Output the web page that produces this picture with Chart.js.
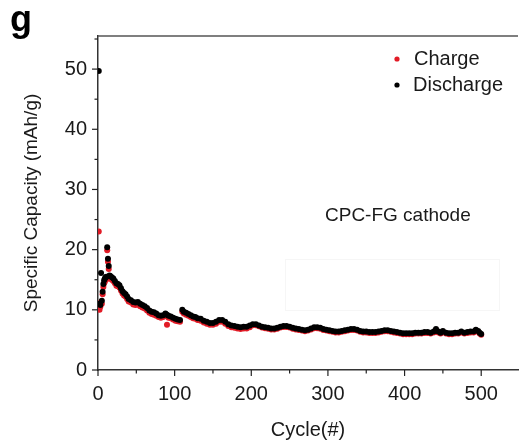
<!DOCTYPE html>
<html>
<head>
<meta charset="utf-8">
<script src="https://cdn.jsdelivr.net/npm/chart.js@4.4.0/dist/chart.umd.min.js"></script>
<style>
  html, body { margin: 0; padding: 0; background: #fff; overflow: hidden; }
  canvas { display: block; }
</style>
</head>
<body>
<canvas id="capacityChart" width="521" height="445"></canvas>
<script>
// cycle numbers (x values)
const cycles = [
  1, 2, 3, 4, 5, 6, 7, 8, 9, 10, 11, 12, 13, 14, 15, 16, 18, 20, 22, 24, 26, 28, 30,
  32, 34, 36, 38, 40, 43, 46, 49, 52, 55, 58, 61, 64, 67, 70, 73, 76, 79, 82, 85, 88, 90,
  92, 95, 98, 101, 104, 107, 110, 112, 115, 118, 121, 124, 127, 130, 134, 138, 142, 146, 150,
  154, 158, 162, 166, 170, 174, 178, 182, 186, 190, 194, 198, 202, 206, 210, 214, 218, 222,
  226, 230, 234, 238, 242, 246, 250, 254, 258, 262, 266, 270, 274, 278, 282, 286, 290, 294,
  298, 302, 306, 310, 314, 318, 322, 326, 330, 334, 338, 342, 346, 350, 354, 358, 362, 366,
  370, 374, 378, 382, 386, 390, 394, 398, 402, 406, 410, 414, 418, 422, 426, 430, 434, 438,
  441, 444, 447, 450, 454, 458, 462, 466, 470, 474, 478, 482, 486, 490, 493, 496, 498, 500
];

// discharge capacity, mAh/g
const discharge = [
  49.7, 11.0, 10.8, 16.1, 11.5, 13.0, 14.3, 14.9, 15.2, 15.4, 15.5, 20.4, 18.5, 17.3, 15.7, 15.6, 15.4, 15.2, 14.8, 14.4, 14.3, 14.1, 13.6,
  13.1, 12.8, 12.6, 12.2, 11.8, 11.6, 11.3, 11.2, 11.3, 11.0, 10.8, 10.6, 10.3, 9.9, 9.7, 9.6, 9.4, 9.1, 9.0, 9.1, 9.4, 9.2,
  9.0, 8.9, 8.7, 8.5, 8.4, 8.3, 10.0, 9.7, 9.5, 9.3, 9.1, 8.9, 8.8, 8.6, 8.5, 8.2, 8.0, 7.8, 7.8,
  8.0, 8.3, 8.3, 8.0, 7.6, 7.4, 7.3, 7.2, 7.1, 7.2, 7.2, 7.4, 7.6, 7.6, 7.4, 7.2, 7.1, 7.0,
  6.9, 6.9, 7.0, 7.2, 7.3, 7.3, 7.2, 7.0, 6.9, 6.8, 6.7, 6.6, 6.7, 6.9, 7.1, 7.1, 7.0, 6.8,
  6.7, 6.6, 6.5, 6.4, 6.4, 6.5, 6.6, 6.7, 6.8, 6.8, 6.7, 6.5, 6.4, 6.4, 6.3, 6.3, 6.3, 6.4,
  6.5, 6.6, 6.6, 6.5, 6.4, 6.3, 6.2, 6.1, 6.1, 6.1, 6.1, 6.2, 6.2, 6.2, 6.3, 6.3, 6.2, 6.4,
  6.8, 6.4, 6.2, 6.5, 6.2, 6.1, 6.1, 6.2, 6.2, 6.4, 6.2, 6.3, 6.4, 6.4, 6.7, 6.5, 6.2, 6.0
];

// charge capacity, mAh/g
const charge = [
  23.0, 10.0, 10.5, 11.3, 11.0, 12.6, 13.8, 14.4, 14.7, 15.0, 15.1, 19.9, 18.0, 16.8, 15.3, 15.2, 15.0, 14.8, 14.4, 14.0, 13.9, 13.7, 13.2,
  12.7, 12.4, 12.2, 11.8, 11.4, 11.2, 10.9, 10.8, 10.9, 10.6, 10.4, 10.2, 9.9, 9.5, 9.3, 9.2, 9.0, 8.8, 8.7, 8.8, 9.0, 7.5,
  8.7, 8.6, 8.4, 8.2, 8.1, 8.0, 9.7, 9.4, 9.2, 9.0, 8.8, 8.6, 8.5, 8.3, 8.2, 7.9, 7.7, 7.5, 7.5,
  7.7, 8.0, 8.0, 7.7, 7.3, 7.1, 7.0, 6.9, 6.8, 6.9, 6.9, 7.1, 7.45, 7.45, 7.25, 7.05, 6.95, 6.85,
  6.75, 6.75, 6.85, 7.05, 7.15, 7.15, 7.05, 6.85, 6.75, 6.65, 6.55, 6.45, 6.55, 6.75, 6.95, 6.95, 6.85, 6.65,
  6.55, 6.45, 6.35, 6.25, 6.25, 6.35, 6.45, 6.55, 6.65, 6.65, 6.55, 6.35, 6.25, 6.25, 6.15, 6.15, 6.15, 6.25,
  6.35, 6.45, 6.45, 6.35, 6.25, 6.15, 6.05, 5.95, 5.95, 5.95, 5.95, 6.05, 6.05, 6.05, 6.15, 6.15, 6.05, 6.25,
  6.65, 6.25, 6.05, 6.35, 6.05, 5.95, 5.95, 6.05, 6.05, 6.25, 6.05, 6.15, 6.25, 6.25, 6.55, 6.35, 6.05, 5.85
];

// axis ticks
const xTicks = [0, 100, 200, 300, 400, 500];
const xMinorTicks = [50, 150, 250, 350, 450];
const yTicks = [0, 10, 20, 30, 40, 50];
const yMinorTicks = [5, 15, 25, 35, 45, 55];

const FONT = "'Liberation Sans', Arial, sans-serif";
const TEXT = '#1a1a1a';
const RED = '#e21b26';

function toPoints(xs, ys) {
  return xs.map((c, i) => ({ x: c, y: ys[i] }));
}

// extra drawing: top frame, tick marks, legend, annotation, panel letter
const decorations = {
  id: 'decorations',
  afterDraw(chart) {
    const ctx = chart.ctx;
    const area = chart.chartArea;
    const xs = chart.scales.x;
    const ys = chart.scales.y;
    ctx.save();

    // faint leftover box
    ctx.strokeStyle = '#f6f6f6';
    ctx.lineWidth = 1;
    ctx.strokeRect(285.5, 259.5, 214, 51);

    // top frame line
    ctx.strokeStyle = '#555';
    ctx.lineWidth = 1.5;
    ctx.beginPath();
    ctx.moveTo(area.left, area.top);
    ctx.lineTo(area.right, area.top);
    ctx.stroke();

    // tick marks
    ctx.strokeStyle = '#222';
    ctx.lineWidth = 1.2;
    const tick = (x1, y1, x2, y2) => {
      ctx.beginPath(); ctx.moveTo(x1, y1); ctx.lineTo(x2, y2); ctx.stroke();
    };
    yTicks.forEach(v => { const p = ys.getPixelForValue(v); tick(area.left - 6, p, area.left, p); });
    yMinorTicks.forEach(v => { const p = ys.getPixelForValue(v); tick(area.left - 3.5, p, area.left, p); });
    xTicks.forEach(v => { const p = xs.getPixelForValue(v); tick(p, area.bottom, p, area.bottom + 6); });
    xMinorTicks.forEach(v => { const p = xs.getPixelForValue(v); tick(p, area.bottom, p, area.bottom + 3.5); });

    // legend
    ctx.textAlign = 'left';
    ctx.textBaseline = 'middle';
    ctx.font = '20px ' + FONT;
    ctx.fillStyle = RED;
    ctx.beginPath(); ctx.arc(397, 59, 2.6, 0, Math.PI * 2); ctx.fill();
    ctx.fillStyle = '#000';
    ctx.beginPath(); ctx.arc(397, 85, 2.6, 0, Math.PI * 2); ctx.fill();
    ctx.fillStyle = TEXT;
    ctx.fillText('Charge', 414, 59);
    ctx.fillText('Discharge', 413, 85);

    // annotation
    ctx.font = '19px ' + FONT;
    ctx.fillText('CPC-FG cathode', 325, 216);

    // panel letter
    ctx.font = 'bold 36px ' + FONT;
    ctx.textBaseline = 'alphabetic';
    ctx.fillStyle = '#000';
    ctx.fillText('g', 10, 31);

    ctx.restore();
  }
};

const chartData = {
  datasets: [{
    label: 'Discharge',
    data: toPoints(cycles, discharge),
    backgroundColor: '#000',
    order: 0
  }, {
    label: 'Charge',
    data: toPoints(cycles, charge),
    backgroundColor: RED,
    order: 1
  }]
};

const chartConfig = {
  type: 'scatter',
  data: chartData,
  options: {
    responsive: false,
    animation: false,
    events: [],
    layout: { padding: { top: 36, right: 0, left: 0, bottom: 0 } },
    elements: { point: { radius: 3, borderWidth: 0, hoverRadius: 0 } },
    plugins: { legend: { display: false }, tooltip: { enabled: false } },
    scales: {
      x: {
        type: 'linear',
        min: 0,
        max: 548,
        grid: { display: false, drawTicks: false },
        border: { display: true, color: '#333', width: 1.5 },
        afterBuildTicks: axis => { axis.ticks = xTicks.map(v => ({ value: v })); },
        afterFit: scale => { scale.height = 75; },
        ticks: { padding: 12, color: TEXT, font: { family: FONT, size: 20 } },
        title: { display: true, text: 'Cycle(#)', color: TEXT, font: { family: FONT, size: 20 }, padding: { top: 0, bottom: 3 } }
      },
      y: {
        type: 'linear',
        min: 0,
        max: 55.5,
        grid: { display: false, drawTicks: false },
        border: { display: true, color: '#333', width: 1.5 },
        afterBuildTicks: axis => { axis.ticks = yTicks.map(v => ({ value: v })); },
        afterFit: scale => { scale.width = 98; },
        ticks: { padding: 11, color: TEXT, font: { family: FONT, size: 20 } },
        title: { display: true, text: 'Specific Capacity (mAh/g)', color: TEXT, font: { family: FONT, size: 19 }, padding: { top: 20, bottom: 0 } }
      }
    }
  },
  plugins: [decorations]
};

const myChart = new Chart(document.getElementById('capacityChart'), chartConfig);
</script>
</body>
</html>
